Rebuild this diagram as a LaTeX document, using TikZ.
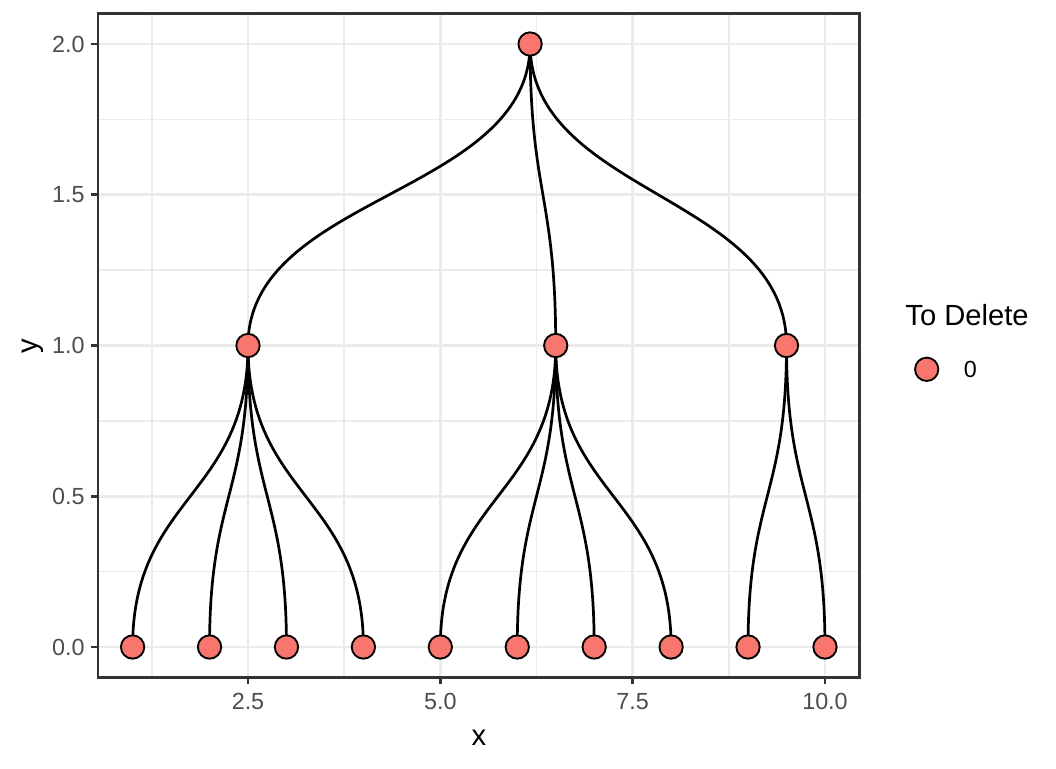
\documentclass[tikz,border=0pt]{standalone}
\usepackage{fontspec}
\setmainfont{Liberation Sans}
\usetikzlibrary{calc}
\definecolor{gridcol}{HTML}{EBEBEB}
\definecolor{greytwenty}{HTML}{333333}
\definecolor{greythirty}{HTML}{4D4D4D}
\definecolor{ptfill}{HTML}{F8766D}
\pgfdeclarelayer{bglayer}
\pgfdeclarelayer{gridlayer}
\pgfdeclarelayer{edgelayer}
\pgfsetlayers{bglayer,gridlayer,edgelayer,main}
\tikzset{
  pt/.style={circle, draw=black, fill=ptfill, line width=0.9pt, minimum size=11.2pt, inner sep=0pt},
  treeline/.style={line width=1.3pt, black},
  majorgrid/.style={gridcol, line width=1.36pt},
  minorgrid/.style={gridcol, line width=0.68pt},
  tickmark/.style={greytwenty, line width=1.36pt},
  ticklab/.style={font=\fontsize{11.2}{13}\selectfont, text=greythirty, inner sep=0pt},
  titlelab/.style={font=\fontsize{14}{16}\selectfont, text=black, inner sep=0pt},
  keylab/.style={font=\fontsize{11.2}{13}\selectfont, text=black, inner sep=0pt}
}
\newcommand{\diagedge}[2]{%
  \path ($(#1.center)!0.5!(#2.center)$) coordinate (m#1#2);
  \draw[treeline] (#1.center) .. controls (#1.center |- m#1#2) and (#2.center |- m#1#2) .. (#2.center);}
\begin{document}
\begin{tikzpicture}[x=0.48pt,y=-0.48pt]
\begin{pgfonlayer}{bglayer}
  \fill[white] (0,0) rectangle (1056,768);
\end{pgfonlayer}
\useasboundingbox (0,0) rectangle (1056,768);
\begin{scope}[shift={(55.675,647)}, x=36.926pt, y=144.72pt]
  % grid
  \begin{pgfonlayer}{gridlayer}
    \foreach \gx in {1.25,3.75,6.25,8.75} \draw[minorgrid] (\gx,-0.1) -- (\gx,2.1);
    \foreach \gy in {0.25,0.75,1.25,1.75} \draw[minorgrid] (0.55,\gy) -- (10.45,\gy);
    \foreach \gx in {2.5,5,7.5,10} \draw[majorgrid] (\gx,-0.1) -- (\gx,2.1);
    \foreach \gy in {0,0.5,1,1.5,2} \draw[majorgrid] (0.55,\gy) -- (10.45,\gy);
  \end{pgfonlayer}
  % nodes
  \node[pt] (r) at (6.1667,2) {};
  \node[pt] (a) at (2.5,1) {};
  \node[pt] (b) at (6.5,1) {};
  \node[pt] (c) at (9.5,1) {};
  \foreach \i in {1,...,10} \node[pt] (l\i) at (\i,0) {};
  % edges
  \begin{pgfonlayer}{edgelayer}
    \diagedge{r}{a}\diagedge{r}{b}\diagedge{r}{c}
    \diagedge{a}{l1}\diagedge{a}{l2}\diagedge{a}{l3}\diagedge{a}{l4}
    \diagedge{b}{l5}\diagedge{b}{l6}\diagedge{b}{l7}\diagedge{b}{l8}
    \diagedge{c}{l9}\diagedge{c}{l10}
  \end{pgfonlayer}
  % panel border
  \draw[greytwenty, line width=1.36pt] (0.55,-0.1) rectangle (10.45,2.1);
  % y ticks
  \foreach \gy/\lab in {0/0.0,0.5/0.5,1/1.0,1.5/1.5,2/2.0} {
    \draw[tickmark] (0.55,\gy) -- ++(-3.5pt,0);
    \node[ticklab, anchor=east, xshift=-6.2pt] (yt\lab) at (0.55,\gy) {\lab};
  }
  % x ticks
  \foreach \gx/\lab in {2.5/2.5,5/5.0,7.5/7.5,10/10.0} {
    \draw[tickmark] (\gx,-0.1) -- ++(0,-3.5pt);
    \node[ticklab, anchor=north, yshift=-7.7pt] (xt\lab) at (\gx,-0.1) {\lab};
  }
\end{scope}
% axis titles
\node[titlelab, anchor=base] (xtitle) at (479,745) {x};
\node[titlelab, rotate=90, anchor=base] (ytitle) at (37.5,346) {y};
% legend
\node[titlelab, anchor=base west] (legtitle) at (905,325.7) {To Delete};
\node[pt] (legkey) at (926.7,369.3) {};
\node[keylab, anchor=west] (legzero) at (963.5,369.3) {0};
\end{tikzpicture}
\end{document}
